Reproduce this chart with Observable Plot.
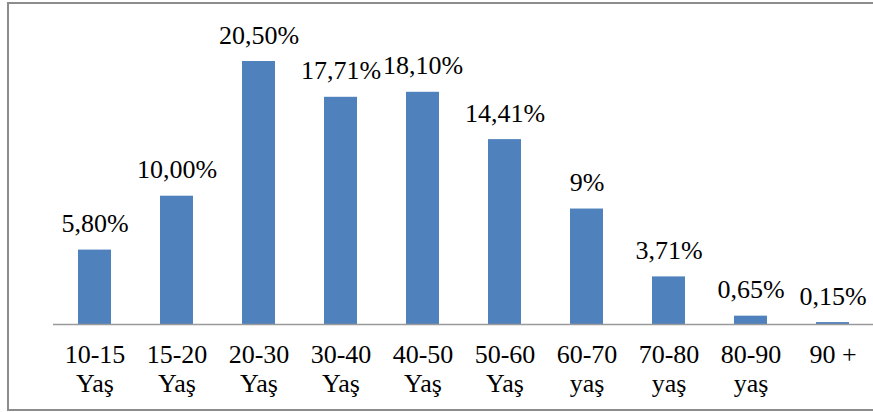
<!DOCTYPE html>
<html>
<head>
<meta charset="utf-8">
<script src="https://cdn.jsdelivr.net/npm/d3@7"></script>
<script src="https://cdn.jsdelivr.net/npm/@observablehq/plot@0.6"></script>
<style>
  html, body { margin: 0; padding: 0; background: #fff; overflow: hidden; }
  #wrap { position: relative; width: 873px; height: 412px; overflow: hidden; }
  #frame { position: absolute; left: 7px; top: 2px; width: 900px; height: 405px; border: 2px solid #8c8c8c; pointer-events: none; }
  #chart { position: absolute; left: 0; top: 0; }
</style>
</head>
<body>
<div id="wrap"><div id="chart"></div><div id="frame"></div></div>
<script>
const groups = ["10-15", "15-20", "20-30", "30-40", "40-50", "50-60", "60-70", "70-80", "80-90", "90 +"];
const suffixes = ["Yaş", "Yaş", "Yaş", "Yaş", "Yaş", "Yaş", "yaş", "yaş", "yaş", ""];
const values = [5.80, 10.00, 20.50, 17.71, 18.10, 14.41, 9, 3.71, 0.65, 0.15];
const valueLabels = ["5,80%", "10,00%", "20,50%", "17,71%", "18,10%", "14,41%", "9%", "3,71%", "0,65%", "0,15%"];

const data = groups.map((g, i) => ({group: g, value: values[i], label: valueLabels[i]}));
const tickText = new Map(groups.map((g, i) => [g, suffixes[i] ? g + "\n" + suffixes[i] : g]));

const chart = Plot.plot({
  width: 873,
  height: 412,
  marginLeft: 53,
  marginRight: 0,
  marginTop: 61,
  marginBottom: 88,
  x: {domain: groups, paddingInner: 0.6, paddingOuter: 0.3},
  y: {domain: [0, 20.5], axis: null},
  marks: [
    Plot.barY(data, {x: "group", y: "value", fill: "#4F81BD"}),
    Plot.ruleY([0], {stroke: "#9a9a9a", strokeWidth: 1.5}),
    Plot.text(data, {x: "group", y: "value", text: "label", lineAnchor: "bottom", dy: -18, fontSize: 26, fill: "#000", fontFamily: "Liberation Serif"}),
    Plot.axisX({tickSize: 0, tickPadding: 18, fontSize: 26, lineHeight: 1.12, fill: "#000", fontFamily: "Liberation Serif", fontVariant: "normal", label: null, tickFormat: d => tickText.get(d)})
  ]
});
document.getElementById("chart").appendChild(chart);
</script>
</body>
</html>
